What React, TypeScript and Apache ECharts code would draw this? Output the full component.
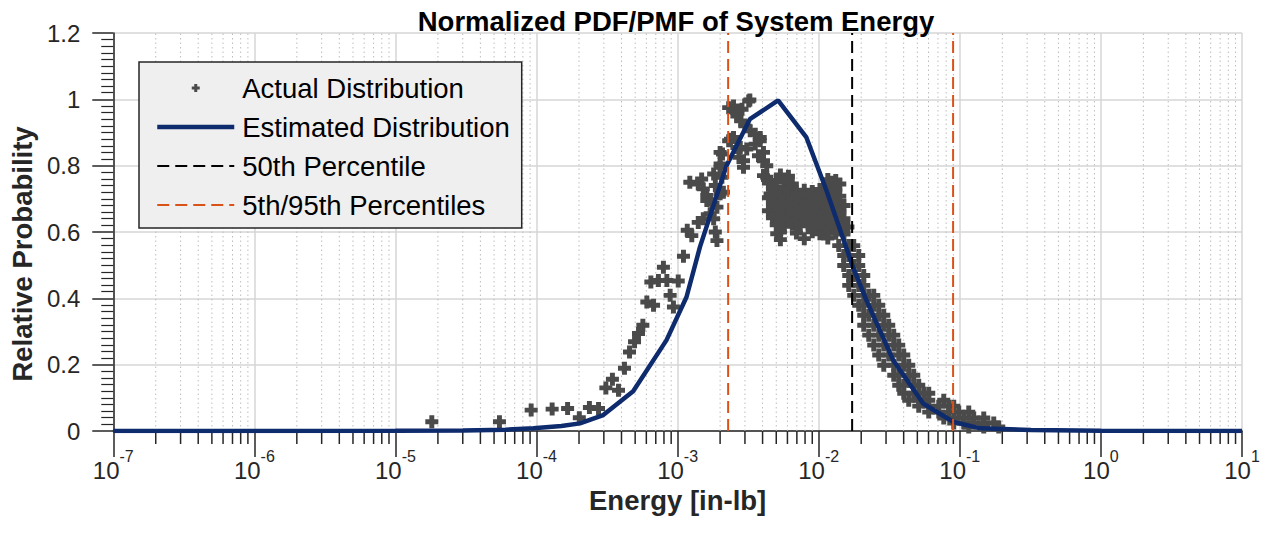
import React, { useEffect, useRef } from "react";
import * as echarts from "echarts";

const FONT = "'Liberation Sans', Arial, Helvetica, sans-serif";
const TEXT = "#262626";

// Axis ranges / ticks
const xMin = 1e-7;
const xMax = 10;
const yTickInterval = 0.2;
const yMax = 1.2;
const minorDecadeMultipliers = [2, 3, 4, 5, 6, 7, 8, 9];
const decadeExponents = [-7, -6, -5, -4, -3, -2, -1, 0];

// Percentiles
const p50 = [0.01725];
const p5 = 0.00228;
const p95 = 0.0896;

// Estimated distribution (energy, relative probability)
const estimatedX = [
  1e-7, 1e-6, 1e-5, 3e-5, 6e-5, 9.5e-5, 1.5e-4, 2.03e-4, 2.97e-4, 4.84e-4, 8.34e-4,
  1.156e-3, 1.44e-3, 2.22e-3, 3.25e-3, 5.15e-3, 8.18e-3, 1.135e-2, 1.75e-2, 2.18e-2,
  3.37e-2, 5.5e-2, 8.95e-2, 0.139, 0.32, 1, 10,
];
const estimatedY = [
  0, 0, 0.0005, 0.0015, 0.004, 0.008, 0.015, 0.023, 0.048, 0.12, 0.274,
  0.404, 0.555, 0.8, 0.94, 0.997, 0.885, 0.725, 0.494, 0.394,
  0.2135, 0.083, 0.028, 0.008, 0.003, 0.001, 0,
];

// Actual distribution: rising edge and isolated points
const actualRising: [number, number][] = [
  [1.81e-5, 0.028], [5.46e-5, 0.028], [9.16e-5, 0.063], [1.29e-4, 0.066], [1.66e-4, 0.068],
  [2.01e-4, 0.04], [2.37e-4, 0.071], [2.75e-4, 0.068], [3.1e-4, 0.13], [3.45e-4, 0.156],
  [3.81e-4, 0.123], [4.2e-4, 0.189], [4.56e-4, 0.238], [4.95e-4, 0.269], [5.28e-4, 0.294],
  [5.67e-4, 0.319], [6.05e-4, 0.389], [6.75e-4, 0.379], [6.46e-4, 0.449], [7.31e-4, 0.454],
  [7.93e-4, 0.494], [8.39e-4, 0.454], [8.85e-4, 0.409], [9.34e-4, 0.374], [1.01e-3, 0.452],
  [1.1e-3, 0.527], [1.17e-3, 0.605], [1.26e-3, 0.589], [1.4e-3, 0.629], [1.22e-3, 0.75],
  [1.4e-3, 0.745], [1.48e-3, 0.76], [1.52e-3, 0.73], [1.61e-3, 0.695], [1.75e-3, 0.685],
  [1.7e-3, 0.655], [1.85e-3, 0.6], [1.9e-3, 0.574], [1.9e-3, 0.675], [2.0e-3, 0.715],
  [2.11e-3, 0.72], [2.06e-3, 0.765], [2.0e-3, 0.795], [2.08e-3, 0.835], [2.0e-3, 0.84],
  [1.8e-3, 0.775], [1.61e-3, 0.71], [1.85e-3, 0.74], [1.8e-3, 0.64], [1.52e-3, 0.64],
];

// Actual distribution: peak region
const actualPeak: [number, number][] = [
  [2.3e-3, 0.875], [2.37e-3, 0.88], [2.3e-3, 0.975], [2.49e-3, 0.98], [2.63e-3, 0.95],
  [2.86e-3, 0.97], [3.19e-3, 0.995], [2.49e-3, 0.885], [2.78e-3, 0.855], [2.93e-3, 0.815],
  [3.27e-3, 0.905], [3.55e-3, 0.865], [3.85e-3, 0.885], [4.06e-3, 0.815], [4.28e-3, 0.765],
  [4.52e-3, 0.715], [4.78e-3, 0.675], [5.04e-3, 0.595], [5.04e-3, 0.635], [2.63e-3, 0.855],
  [3.09e-3, 0.85], [3.55e-3, 0.895], [3.85e-3, 0.875], [4.06e-3, 0.84], [3.74e-3, 0.83],
  [4.28e-3, 0.8], [2.72e-3, 0.825], [2.93e-3, 0.795], [4.06e-3, 0.77], [2.0e-3, 0.805],
  [2.63e-3, 0.96], [2.8e-3, 0.935], [3.25e-3, 0.998], [3.0e-3, 0.92],
];

// Actual distribution: dense cluster right of the peak
const actualCluster: [number, number][] = [
  [5.35e-3, 0.772], [6.1e-3, 0.768],
  [4.4e-3, 0.748], [5.0e-3, 0.755], [5.7e-3, 0.752], [6.5e-3, 0.745], [11.6e-3, 0.758],
  [12.4e-3, 0.75], [13.2e-3, 0.755], [14.1e-3, 0.745],
  [4.7e-3, 0.73], [5.35e-3, 0.724], [6.1e-3, 0.729], [6.95e-3, 0.721], [7.9e-3, 0.726],
  [9.0e-3, 0.722], [10.2e-3, 0.728], [11.6e-3, 0.733], [13.2e-3, 0.727],
  [4.4e-3, 0.703], [5.0e-3, 0.708], [5.7e-3, 0.701], [6.5e-3, 0.706], [7.4e-3, 0.703],
  [8.4e-3, 0.709], [9.6e-3, 0.702], [10.9e-3, 0.707], [12.4e-3, 0.704], [14.1e-3, 0.708],
  [4.7e-3, 0.686], [5.35e-3, 0.681], [6.1e-3, 0.687], [6.95e-3, 0.683], [7.9e-3, 0.679],
  [9.0e-3, 0.688], [10.2e-3, 0.684], [11.6e-3, 0.681], [13.2e-3, 0.686], [15.1e-3, 0.68],
  [4.4e-3, 0.664], [5.0e-3, 0.659], [5.7e-3, 0.665], [6.5e-3, 0.661], [7.4e-3, 0.666],
  [8.4e-3, 0.66], [9.6e-3, 0.663], [10.9e-3, 0.658], [12.4e-3, 0.665], [14.1e-3, 0.661],
  [4.7e-3, 0.643], [5.35e-3, 0.638], [6.1e-3, 0.644], [6.95e-3, 0.64], [7.9e-3, 0.645],
  [9.0e-3, 0.639], [10.2e-3, 0.642], [11.6e-3, 0.637], [13.2e-3, 0.644], [15.1e-3, 0.64],
  [5.0e-3, 0.622], [5.7e-3, 0.617], [6.5e-3, 0.623], [7.4e-3, 0.619], [8.4e-3, 0.624],
  [9.6e-3, 0.618], [10.9e-3, 0.621], [12.4e-3, 0.616], [14.1e-3, 0.623], [16.1e-3, 0.615],
  [5.35e-3, 0.6], [6.95e-3, 0.597], [9.0e-3, 0.601], [10.2e-3, 0.595], [11.6e-3, 0.599],
  [13.2e-3, 0.596], [15.1e-3, 0.594],
  [5.35e-3, 0.577], [7.9e-3, 0.58], [11.6e-3, 0.582],
];

// Actual distribution: descending tail band
const actualTail: [number, number][] = [
  [0.01386, 0.559], [0.01632, 0.559], [0.01771, 0.559],
  [0.01504, 0.529], [0.01632, 0.529], [0.01921, 0.529],
  [0.01504, 0.499], [0.01771, 0.499], [0.01921, 0.499],
  [0.01632, 0.469], [0.01771, 0.469], [0.02085, 0.469],
  [0.01632, 0.439], [0.01921, 0.439], [0.02085, 0.439],
  [0.01771, 0.409], [0.02085, 0.409], [0.02262, 0.409], [0.02455, 0.409],
  [0.01921, 0.379], [0.02085, 0.379], [0.02455, 0.379], [0.02663, 0.379],
  [0.02085, 0.349], [0.02262, 0.349], [0.02663, 0.349], [0.0289, 0.349],
  [0.02085, 0.319], [0.02455, 0.319], [0.0289, 0.319], [0.03135, 0.319],
  [0.02262, 0.289], [0.02663, 0.289], [0.03135, 0.289], [0.03402, 0.289],
  [0.02455, 0.259], [0.0289, 0.259], [0.03402, 0.259], [0.03691, 0.259],
  [0.02663, 0.229], [0.03135, 0.229], [0.03691, 0.229], [0.04005, 0.229],
  [0.0289, 0.198], [0.03402, 0.198], [0.04005, 0.198], [0.04345, 0.198],
  [0.03402, 0.168], [0.03691, 0.168], [0.04345, 0.168], [0.04715, 0.168],
  [0.03691, 0.138], [0.04005, 0.138], [0.04715, 0.138], [0.05116, 0.138],
  [0.04005, 0.114], [0.04715, 0.114], [0.05551, 0.114], [0.06023, 0.114],
  [0.04345, 0.093], [0.05116, 0.093], [0.06023, 0.093], [0.07694, 0.093],
  [0.05116, 0.075], [0.06023, 0.075], [0.07091, 0.075], [0.08348, 0.075], [0.09058, 0.075],
  [0.06023, 0.057], [0.07091, 0.057], [0.08348, 0.057], [0.09828, 0.057], [0.1157, 0.057],
  [0.07694, 0.039], [0.09058, 0.039], [0.1066, 0.039], [0.1255, 0.039], [0.1478, 0.039],
  [0.09058, 0.024], [0.1066, 0.024], [0.1255, 0.024], [0.1478, 0.024], [0.174, 0.024],
  [0.1157, 0.012], [0.1478, 0.012], [0.1888, 0.012],
];

const NAVY = "#0e2b6e";
const RED = "#d95319";
const GRAY = "#4a4a4a";
const PLUS = "path://M3.1,0H6.9V3.1H10V6.9H6.9V10H3.1V6.9H0V3.1H3.1Z";

export default function App() {
  const ref = useRef<HTMLDivElement>(null);

  useEffect(() => {
    if (!ref.current) return;
    const chart = echarts.init(ref.current, undefined, { renderer: "svg" });

    const minorValues: number[][] = [];
    decadeExponents.forEach((e) => {
      minorDecadeMultipliers.forEach((m) => minorValues.push([m * Math.pow(10, e)]));
    });

    const actual = [...actualRising, ...actualPeak, ...actualCluster, ...actualTail];
    const estimated = estimatedX.map((x, i) => [x, estimatedY[i]]);
    const hiddenSymbol = { opacity: 0 };

    const option: any = {
      animation: false,
      backgroundColor: "#ffffff",
      title: {
        text: "Normalized PDF/PMF of System Energy",
        left: 671,
        textAlign: "center",
        top: 2,
        textStyle: { fontSize: 27.5, fontWeight: "bold", color: "#000", fontFamily: FONT },
      },
      legend: {
        orient: "vertical",
        left: 139,
        top: 62,
        data: [
          { name: "Actual Distribution" },
          { name: "Estimated Distribution", itemStyle: hiddenSymbol, lineStyle: { width: 4.5 } },
          { name: "50th Percentile", itemStyle: hiddenSymbol, lineStyle: { width: 2 } },
          { name: "5th/95th Percentiles", itemStyle: hiddenSymbol, lineStyle: { width: 2 } },
        ],
        itemWidth: 77,
        itemHeight: 8,
        itemGap: 11,
        backgroundColor: "#efefef",
        borderColor: TEXT,
        borderWidth: 1.5,
        borderRadius: 0,
        padding: [12, 12, 9, 16],
        selectedMode: false,
        textStyle: {
          fontSize: 27.5,
          lineHeight: 28,
          color: "#000",
          fontFamily: FONT,
          padding: [0, 0, 0, 3],
        },
      },
      grid: { left: 113, right: 28, top: 33, bottom: 110, containLabel: false },
      xAxis: {
        type: "log",
        logBase: 10,
        min: xMin,
        max: xMax,
        splitNumber: 8,
        name: "Energy [in-lb]",
        nameLocation: "middle",
        nameGap: 46,
        nameTextStyle: { fontSize: 27.5, fontWeight: "bold", color: TEXT, fontFamily: FONT },
        axisLine: { show: true, onZero: false, lineStyle: { color: TEXT, width: 1.5 } },
        axisTick: { show: true, length: 26, lineStyle: { color: TEXT, width: 1.5 } },
        splitLine: { show: true, lineStyle: { color: "#d6d6d6", width: 1.5 } },
        axisLabel: {
          margin: 17,
          showMinLabel: true,
          showMaxLabel: true,
          formatter: (v: number) => `{b|10}{s|${Math.round(Math.log10(v))}}`,
          rich: {
            b: { fontSize: 24, lineHeight: 34, verticalAlign: "bottom", color: TEXT, fontFamily: FONT },
            s: { fontSize: 16, lineHeight: 16, verticalAlign: "top", color: TEXT, fontFamily: FONT },
          },
        },
      },
      yAxis: {
        type: "value",
        min: 0,
        max: yMax,
        interval: yTickInterval,
        name: "Relative Probability",
        nameLocation: "middle",
        nameGap: 68,
        nameTextStyle: {
          fontSize: 27.5,
          fontWeight: "bold",
          color: TEXT,
          fontFamily: FONT,
          padding: [0, 44, 0, 0],
        },
        axisLine: { show: true, lineStyle: { color: TEXT, width: 1.5 } },
        axisTick: { show: true, length: 21, lineStyle: { color: TEXT, width: 1.5 } },
        minorTick: { show: true, splitNumber: 10, length: 12, lineStyle: { color: TEXT, width: 1.2 } },
        splitLine: { show: true, lineStyle: { color: "#d6d6d6", width: 1.5 } },
        axisLabel: {
          fontSize: 24,
          margin: 33,
          color: TEXT,
          fontFamily: FONT,
          formatter: (v: number) => String(Math.round(v * 10) / 10),
        },
      },
      series: [
        {
          type: "custom",
          name: "minor",
          silent: true,
          z: 1,
          clip: false,
          data: minorValues,
          encode: { x: 0 },
          renderItem: (_params: any, api: any) => {
            const v = api.value(0);
            const p0 = api.coord([v, 0]);
            const p1 = api.coord([v, yMax]);
            return {
              type: "group",
              children: [
                {
                  type: "line",
                  shape: { x1: p0[0], y1: p0[1], x2: p1[0], y2: p1[1] },
                  style: { stroke: "#bdbdbd", lineWidth: 1, lineDash: [1.5, 3] },
                },
                {
                  type: "line",
                  shape: { x1: p0[0], y1: p0[1], x2: p0[0], y2: p0[1] + 13 },
                  style: { stroke: TEXT, lineWidth: 1.5 },
                },
              ],
            };
          },
        },
        {
          type: "scatter",
          name: "Actual Distribution",
          symbol: PLUS,
          symbolSize: 13,
          itemStyle: { color: GRAY, opacity: 1 },
          z: 2,
          data: actual,
        },
        {
          type: "line",
          name: "Estimated Distribution",
          symbol: "none",
          lineStyle: { color: NAVY, width: 4.5 },
          itemStyle: { color: NAVY },
          z: 3,
          data: estimated,
        },
        {
          type: "line",
          name: "50th Percentile",
          symbol: "none",
          lineStyle: { color: "#000", width: 2, type: [12, 6] },
          itemStyle: { color: "#000" },
          z: 4,
          data: [[p50[0], 0], [p50[0], yMax]],
        },
        {
          type: "line",
          name: "5th/95th Percentiles",
          symbol: "none",
          lineStyle: { color: RED, width: 2, type: [12, 6] },
          itemStyle: { color: RED },
          z: 4,
          data: [[p5, 0], [p5, yMax]],
        },
        {
          type: "line",
          name: "5th/95th Percentiles",
          symbol: "none",
          lineStyle: { color: RED, width: 2, type: [12, 6] },
          itemStyle: { color: RED },
          z: 4,
          data: [[p95, 0], [p95, yMax]],
        },
      ],
    };

    chart.setOption(option);
    return () => chart.dispose();
  }, []);

  return (
    <div
      ref={ref}
      style={{ position: "fixed", left: 0, top: 0, width: 1270, height: 541 }}
    />
  );
}
